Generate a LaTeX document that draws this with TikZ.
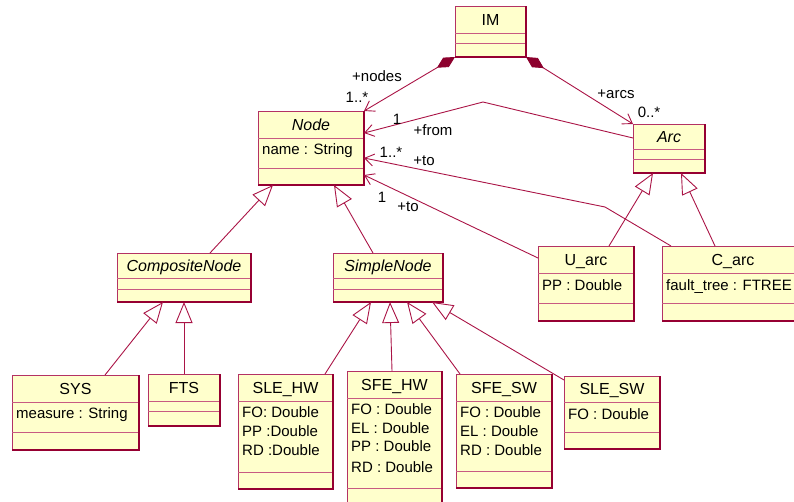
\documentclass[tikz,border=0pt]{standalone}
\usepackage{fontspec}
\setmainfont{Liberation Sans}
\usetikzlibrary{arrows.meta}
\definecolor{boxfill}{RGB}{255,255,204}
\definecolor{boxedge}{RGB}{180,50,100}
\definecolor{boxdark}{RGB}{150,0,50}
\definecolor{sepc}{RGB}{200,90,130}
\definecolor{linec}{RGB}{170,20,70}
\definecolor{dmd}{RGB}{140,0,45}
\tikzset{
 clsbox/.style={rectangle, draw=boxedge, fill=boxfill, line width=1pt, inner sep=0pt, outer sep=0pt},
 sepline/.style={draw=sepc, line width=0.8pt},
 darkedge/.style={draw=boxdark, line width=1.4pt},
 ttl/.style={font=\fontsize{16}{19}\selectfont, inner sep=0pt, anchor=base},
 attr/.style={font=\fontsize{15}{18}\selectfont, inner sep=0pt, anchor=base west},
 lbl/.style={font=\fontsize{15}{18}\selectfont, inner sep=0pt},
 conn/.style={draw=linec, line width=0.9pt},
 gen/.style={conn, -{Triangle[open, fill=white, length=21pt, width=17pt]}},
 nav/.style={conn, -{Straight Barb[length=9pt, width=12pt]}},
 comp/.style={conn, {Diamond[length=21pt, width=11pt, fill=dmd, color=dmd]}-{Straight Barb[length=9pt, width=12pt]}},
}
\newcommand\umlcls[8]{%
 \pgfmathsetmacro\clw{#4-#2}%
 \pgfmathsetmacro\clh{#5-#3}%
 \node[clsbox, minimum width=\clw pt, minimum height=\clh pt, anchor=north west] (#1) at (#2,#3) {};
 \draw[sepline] (#2,#6) -- (#4,#6);
 \draw[sepline] (#2,#7) -- (#4,#7);
 \draw[darkedge] (#2,#5) -- (#4,#5) -- (#4,#3);
 \pgfmathsetmacro\clx{(#2+#4)/2}%
 \pgfmathsetmacro\cly{(#3+#6)/2+5.5}%
 \node[ttl] (#1-t) at (\clx,\cly) {#8};
}
\newcommand\umlattr[4]{\node[attr] (#1) at ({#2+4},{#3+5}) {#4};}
\begin{document}
\begin{tikzpicture}[x=1pt, y=-1pt]
\useasboundingbox (0,0) rectangle (794,501);
% classes
\umlcls{IM}{455}{6}{526}{57}{33}{43}{IM}
\umlcls{Node}{258}{111}{364}{185}{138}{168}{\itshape Node}
\umlattr{Node-a1}{258}{149}{name : String}
\umlcls{Arc}{633}{124}{705}{173}{149}{159}{\itshape Arc}
\umlcls{Uarc}{538}{246}{634}{321}{273}{303}{U\_arc}
\umlattr{Uarc-a1}{538}{285}{PP : Double}
\umlcls{Carc}{662}{246}{804}{321}{273}{303}{C\_arc}
\umlattr{Carc-a1}{662}{285}{fault\_tree : FTREE}
\umlcls{Comp}{117}{253}{251}{302}{278}{289}{\itshape CompositeNode}
\umlcls{Simple}{333}{253}{443}{302}{278}{289}{\itshape SimpleNode}
\umlcls{SYS}{12}{375}{139}{450}{402}{432}{SYS}
\umlattr{SYS-a1}{12}{413}{measure : String}
\umlcls{FTS}{148}{374}{220}{426}{401}{411}{FTS}
\umlcls{SLEHW}{238}{374}{333}{489}{401}{472}{SLE\_HW}
\umlattr{SLEHW-a1}{238}{412}{FO: Double}
\umlattr{SLEHW-a2}{238}{431}{PP :Double}
\umlattr{SLEHW-a3}{238}{450}{RD :Double}
\umlcls{SFEHW}{347}{371}{442}{512}{398}{488}{SFE\_HW}
\umlattr{SFEHW-a1}{347}{409}{FO : Double}
\umlattr{SFEHW-a2}{347}{428}{EL : Double}
\umlattr{SFEHW-a3}{347}{446}{PP : Double}
\umlattr{SFEHW-a4}{347}{467}{RD : Double}
\umlcls{SFESW}{456}{374}{552}{488}{401}{471}{SFE\_SW}
\umlattr{SFESW-a1}{456}{412}{FO : Double}
\umlattr{SFESW-a2}{456}{431}{EL : Double}
\umlattr{SFESW-a3}{456}{450}{RD : Double}
\umlcls{SLESW}{564}{376}{660}{449}{402}{432}{SLE\_SW}
\umlattr{SLESW-a1}{564}{414}{FO : Double}
% compositions
\draw[comp] (IM.south west) -- (Node.north east);
\draw[comp] (IM.south east) -- (Arc.north west);
% associations
\coordinate (bfrom) at (483,102);
\coordinate (bto) at (605,207);
\draw[nav] ([yshift=-14pt]Arc.north west) -- (bfrom) -- ([yshift=-22pt]Node.north east);
\draw[nav] ([xshift=9pt]Carc.north west) -- (bto) -- ([yshift=-47pt]Node.north east);
\draw[nav] ([yshift=-12pt]Uarc.north west) -- ([yshift=-64pt]Node.north east);
% generalizations
\draw[gen] ([xshift=93pt]Comp.north west) -- ([xshift=15pt]Node.south west);
\draw[gen] ([xshift=40pt]Simple.north west) -- ([xshift=76pt]Node.south west);
\draw[gen] ([xshift=71pt]Uarc.north west) -- ([xshift=20pt]Arc.south west);
\draw[gen] ([xshift=53pt]Carc.north west) -- ([xshift=48pt]Arc.south west);
\draw[gen] ([xshift=93pt]SYS.north west) -- ([xshift=46pt]Comp.south west);
\draw[gen] ([xshift=36pt]FTS.north west) -- ([xshift=67pt]Comp.south west);
\draw[gen] ([xshift=87pt]SLEHW.north west) -- ([xshift=38pt]Simple.south west);
\draw[gen] ([xshift=45pt]SFEHW.north west) -- ([xshift=57pt]Simple.south west);
\draw[gen] ([xshift=4pt]SFESW.north west) -- ([xshift=74pt]Simple.south west);
\draw[gen] ([yshift=-4pt]SLESW.north west) -- ([xshift=99pt]Simple.south west);
% labels
\node[lbl] (l-nodes) at (377,76) {+nodes};
\node[lbl] (l-m1) at (357,97) {1..*};
\node[lbl] (l-arcs) at (616,94) {+arcs};
\node[lbl] (l-m2) at (649,112) {0..*};
\node[lbl] (l-m3) at (397,119) {1};
\node[lbl] (l-from) at (433,130) {+from};
\node[lbl] (l-m4) at (391,152) {1..*};
\node[lbl] (l-to1) at (424,161) {+to};
\node[lbl] (l-m5) at (382,197) {1};
\node[lbl] (l-to2) at (408,207) {+to};
\end{tikzpicture}
\end{document}
